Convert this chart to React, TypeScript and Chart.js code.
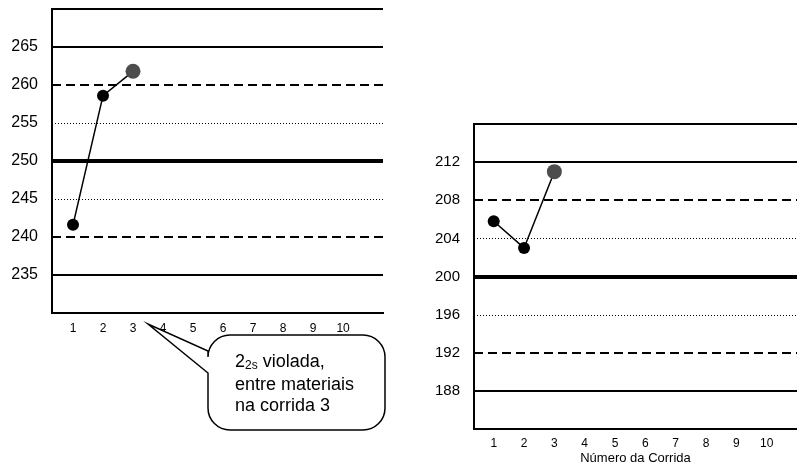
import { useEffect, useRef } from "react";
import { Chart, registerables } from "chart.js";

Chart.register(...registerables);

// ---------- data ----------
const runs = [1, 2, 3, 4, 5, 6, 7, 8, 9, 10];
const runLabels = ["1", "2", "3", "4", "5", "6", "7", "8", "9", "10"];

const leftValues = [241.6, 258.6, 261.8];
const leftTicks = [235, 240, 245, 250, 255, 260, 265];
const leftRange = [230, 270];
const leftMean = 250;
const leftSD = 5;

const rightValues = [205.8, 203.0, 211.0];
const rightTicks = [188, 192, 196, 200, 204, 208, 212];
const rightRange = [184, 216];
const rightMean = 200;
const rightSD = 4;

const sdMultiples = [-3, -2, -1, 0, 1, 2, 3];
const violatedRun = 3;
const xTitle = "Número da Corrida";
const calloutMain = "2";
const calloutSub = "2s";
const calloutLines = [" violada,", "entre materiais", "na corrida 3"];

const FONT = "'Liberation Sans', Arial, Helvetica, sans-serif";

function lineStyle(k: number) {
  const a = Math.abs(k);
  if (a === 0) return { width: 4, dash: [] as number[] };
  if (a === 1) return { width: 1, dash: [1, 2] };
  if (a === 2) return { width: 2, dash: [9, 5] };
  return { width: 2, dash: [] as number[] };
}

const controlLinesPlugin = {
  id: "controlLines",
  beforeDatasetsDraw(chart: any, _args: any, opts: any) {
    const { ctx, chartArea } = chart;
    const y = chart.scales.y;
    ctx.save();
    ctx.strokeStyle = "#000";
    ctx.lineCap = "butt";
    for (const k of sdMultiples) {
      const st = lineStyle(k);
      const py = Math.round(y.getPixelForValue(opts.mean + k * opts.sd)) + (st.width % 2 ? 0.5 : 0);
      ctx.beginPath();
      ctx.lineWidth = st.width;
      ctx.setLineDash(st.dash);
      ctx.moveTo(chartArea.left, py);
      ctx.lineTo(chartArea.right, py);
      ctx.stroke();
    }
    // top frame line
    ctx.setLineDash([]);
    ctx.lineWidth = 2;
    ctx.beginPath();
    ctx.moveTo(chartArea.left - 1, chartArea.top);
    ctx.lineTo(chartArea.right, chartArea.top);
    ctx.stroke();
    ctx.restore();
  },
};

const calloutPlugin = {
  id: "callout",
  afterDraw(chart: any, _args: any, opts: any) {
    if (!opts || !opts.show) return;
    const { ctx, chartArea } = chart;
    const xs = chart.scales.x;
    const tipX = xs.getPixelForValue(violatedRun + 0.5);
    const tipY = chartArea.bottom + 11;
    const bx = 208, by = 335, bw = 177, bh = 95, r = 22;
    ctx.save();
    ctx.beginPath();
    ctx.moveTo(bx + r, by);
    ctx.lineTo(bx + bw - r, by);
    ctx.arcTo(bx + bw, by, bx + bw, by + r, r);
    ctx.lineTo(bx + bw, by + bh - r);
    ctx.arcTo(bx + bw, by + bh, bx + bw - r, by + bh, r);
    ctx.lineTo(bx + r, by + bh);
    ctx.arcTo(bx, by + bh, bx, by + bh - r, r);
    ctx.lineTo(bx, 373);
    ctx.lineTo(tipX, tipY);
    ctx.lineTo(bx, 351);
    ctx.lineTo(bx, by + r);
    ctx.arcTo(bx, by, bx + r, by, r);
    ctx.closePath();
    ctx.fillStyle = "#fff";
    ctx.fill();
    ctx.lineWidth = 1.5;
    ctx.strokeStyle = "#000";
    ctx.lineJoin = "miter";
    ctx.stroke();

    ctx.fillStyle = "#000";
    ctx.textBaseline = "alphabetic";
    ctx.textAlign = "left";
    const tx = 235;
    ctx.font = `18px ${FONT}`;
    ctx.fillText(calloutMain, tx, 367);
    const w1 = ctx.measureText(calloutMain).width;
    ctx.font = `12px ${FONT}`;
    ctx.fillText(calloutSub, tx + w1, 369);
    const w2 = ctx.measureText(calloutSub).width;
    ctx.font = `18px ${FONT}`;
    ctx.fillText(calloutLines[0], tx + w1 + w2, 367);
    ctx.fillText(calloutLines[1], tx, 390);
    ctx.fillText(calloutLines[2], tx, 411);
    ctx.restore();
  },
};

function buildConfig(p: {
  values: number[];
  ticks: number[];
  range: number[];
  mean: number;
  sd: number;
  xMin: number;
  xMax: number;
  padding: any;
  yWidth: number;
  yFont: number;
  yPad: number;
  xHeight: number;
  xPad: number;
  title?: string;
  callout?: boolean;
}): any {
  const pts = p.values.map((v, i) => ({ x: runs[i], y: v }));
  const last = p.values.length - 1;
  return {
    type: "scatter",
    data: {
      datasets: [
        {
          data: pts,
          showLine: true,
          borderColor: "#000",
          borderWidth: 1.5,
          pointBackgroundColor: p.values.map((_, i) => (i === last ? "#4d4d4d" : "#000")),
          pointBorderColor: p.values.map((_, i) => (i === last ? "#4d4d4d" : "#000")),
          pointBorderWidth: 0,
          pointRadius: p.values.map((_, i) => (i === last ? 7.5 : 6)),
          pointHoverRadius: p.values.map((_, i) => (i === last ? 7.5 : 6)),
        },
      ],
    },
    options: {
      responsive: false,
      animation: false,
      devicePixelRatio: 1,
      layout: { padding: p.padding, autoPadding: false },
      plugins: {
        legend: { display: false },
        tooltip: { enabled: false },
        controlLines: { mean: p.mean, sd: p.sd },
        callout: { show: !!p.callout },
      },
      scales: {
        x: {
          type: "linear",
          min: p.xMin,
          max: p.xMax,
          grid: { display: false, drawTicks: false },
          border: { display: true, color: "#000", width: 2 },
          afterBuildTicks: (s: any) => {
            s.ticks = runs.map((v) => ({ value: v }));
          },
          afterFit: (s: any) => {
            s.height = p.xHeight;
            s.paddingLeft = 0;
            s.paddingRight = 0;
          },
          ticks: {
            autoSkip: false,
            maxRotation: 0,
            padding: p.xPad,
            color: "#000",
            font: { family: FONT, size: 12 },
            callback: (v: number) => {
              const i = runs.indexOf(v);
              return i >= 0 ? runLabels[i] : "";
            },
          },
          title: p.title
            ? {
                display: true,
                text: p.title,
                color: "#000",
                font: { family: FONT, size: 13 },
                padding: { top: 0, bottom: 0 },
              }
            : { display: false },
        },
        y: {
          type: "linear",
          min: p.range[0],
          max: p.range[1],
          grid: { display: false, drawTicks: false },
          border: { display: true, color: "#000", width: 2 },
          afterBuildTicks: (s: any) => {
            s.ticks = p.ticks.map((v) => ({ value: v }));
          },
          afterFit: (s: any) => {
            s.width = p.yWidth;
            s.paddingTop = 0;
            s.paddingBottom = 0;
          },
          ticks: {
            padding: p.yPad,
            color: "#000",
            font: { family: FONT, size: p.yFont },
          },
        },
      },
    },
    plugins: [controlLinesPlugin, calloutPlugin],
  };
}

export default function App() {
  const leftRef = useRef<HTMLCanvasElement>(null);
  const rightRef = useRef<HTMLCanvasElement>(null);

  useEffect(() => {
    const left = new Chart(
      leftRef.current!,
      buildConfig({
        values: leftValues,
        ticks: leftTicks,
        range: leftRange,
        mean: leftMean,
        sd: leftSD,
        xMin: 0.3,
        xMax: 11.33,
        padding: { left: 0, top: 9, right: 27, bottom: 123 },
        yWidth: 52,
        yFont: 16,
        yPad: 14,
        xHeight: 30,
        xPad: 8,
        callout: true,
      })
    );
    const right = new Chart(
      rightRef.current!,
      buildConfig({
        values: rightValues,
        ticks: rightTicks,
        range: rightRange,
        mean: rightMean,
        sd: rightSD,
        xMin: 0.35,
        xMax: 11.0,
        padding: { left: 0, top: 124, right: 0, bottom: 0 },
        yWidth: 64,
        yFont: 15,
        yPad: 14,
        xHeight: 37,
        xPad: 7,
        title: xTitle,
      })
    );
    return () => {
      left.destroy();
      right.destroy();
    };
  }, []);

  return (
    <div style={{ position: "fixed", left: 0, top: 0, width: 797, height: 466, background: "#fff" }}>
      <canvas
        ref={leftRef}
        width={410}
        height={466}
        style={{ position: "absolute", left: 0, top: 0, width: 410, height: 466 }}
      />
      <canvas
        ref={rightRef}
        width={387}
        height={466}
        style={{ position: "absolute", left: 410, top: 0, width: 387, height: 466 }}
      />
    </div>
  );
}
